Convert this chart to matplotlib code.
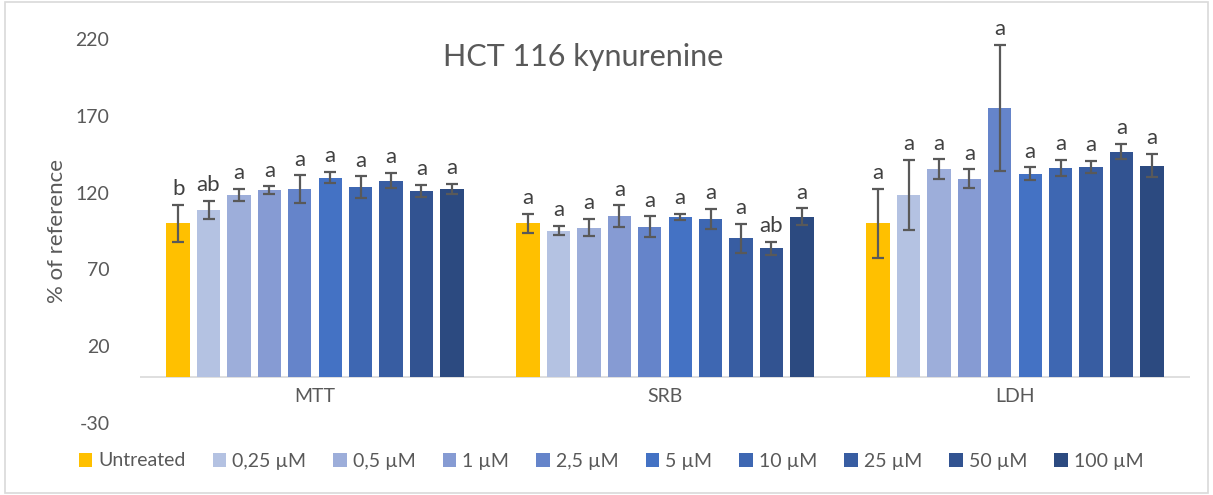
import matplotlib
matplotlib.use("Agg")
import matplotlib.pyplot as plt
import numpy as np
from matplotlib.patches import Rectangle

plt.rcParams["font.family"] = ["Lato", "DejaVu Sans"]
plt.rcParams["axes.unicode_minus"] = False

# ── 数据 ──
assays = ["MTT", "SRB", "LDH"]
treatments = ["Untreated", "0,25 µM", "0,5 µM", "1 µM", "2,5 µM",
              "5 µM", "10 µM", "25 µM", "50 µM", "100 µM"]

mtt_vals = [100, 108.7, 118.5, 121.5, 122.2, 129.8, 123.5, 127.8, 121.1, 122.6]
mtt_err = [12, 6, 4, 2.6, 9, 3.7, 7, 5, 4, 3.3]
mtt_sig = ["b", "ab", "a", "a", "a", "a", "a", "a", "a", "a"]

srb_vals = [100, 95.3, 97.2, 104.8, 97.9, 104.0, 102.7, 90.3, 83.8, 104.4]
srb_err = [6.3, 3, 5.7, 7, 6.7, 2.1, 6.7, 9.3, 4.3, 5.4]
srb_sig = ["a", "a", "a", "a", "a", "a", "a", "a", "ab", "a"]

ldh_vals = [100, 118.5, 135.2, 129.1, 175.3, 132.2, 136.1, 136.9, 146.7, 137.6]
ldh_err = [22.4, 22.8, 6.5, 6, 41, 4.3, 5.2, 3.9, 5, 7.6]
ldh_sig = ["a"] * 10

colors = ["#FFC000", "#B4C2E2", "#9DAEDA", "#869BD3", "#6584CA",
          "#4472C4", "#3E67B2", "#385DA2", "#325391", "#2C4A80"]

vals = np.array([mtt_vals, srb_vals, ldh_vals])
errs = np.array([mtt_err, srb_err, ldh_err])
sigs = [mtt_sig, srb_sig, ldh_sig]

txt = "#595959"

fig = plt.figure(figsize=(12.13, 4.95), dpi=100)
ax = fig.add_axes([140 / 1213, 1 - 423 / 495, 1050 / 1213, 384 / 495])

x = np.arange(len(assays))
pitch = 0.0869
width = 0.0667
n = len(treatments)
for i, t in enumerate(treatments):
    xs = x + (i - (n - 1) / 2) * pitch
    ax.bar(xs, vals[:, i], width, color=colors[i], label=t, zorder=2)
    ax.errorbar(xs, vals[:, i], yerr=errs[:, i], fmt="none", ecolor="#595959",
                elinewidth=1.6, capsize=4.5, capthick=1.6, zorder=3)
    for j in range(len(assays)):
        ax.annotate(sigs[j][i], (xs[j], vals[j, i] + errs[j, i]),
                    xytext=(0, 4), textcoords="offset points",
                    ha="center", va="bottom", fontsize=16, color="#404040")

ax.set_xlim(-0.5, 2.5)
ax.set_ylim(-30, 220)
ax.set_yticks([-30, 20, 70, 120, 170, 220])
ax.axhline(0, color="#D9D9D9", lw=1.2, zorder=1)
for s in ax.spines.values():
    s.set_visible(False)
ax.tick_params(axis="both", length=0, colors=txt, labelsize=14)
ax.tick_params(axis="y", pad=22)
ax.set_xticks([])
# category labels sit just below the zero line
for j, a in enumerate(assays):
    ax.text(x[j], -13, a, ha="center", va="center", fontsize=14, color=txt)

ax.set_ylabel("% of reference", fontsize=16, color=txt, labelpad=6)

fig.text(583 / 1213, 1 - 57 / 495, "HCT 116 kynurenine", ha="center", va="center",
         fontsize=22, color=txt)

ax.legend(loc="center", bbox_to_anchor=(611 / 1213, 1 - 461 / 495), bbox_transform=fig.transFigure,
          ncol=10, frameon=False, fontsize=14, handlelength=0.7, handleheight=0.7,
          handletextpad=0.3, columnspacing=1.4, labelcolor=txt)

fig.patches.append(Rectangle((0.004, 0.004), 0.992, 0.992, transform=fig.transFigure,
                             fill=False, edgecolor="#D9D9D9", lw=1.2))

fig.savefig("out.png", dpi=100)
